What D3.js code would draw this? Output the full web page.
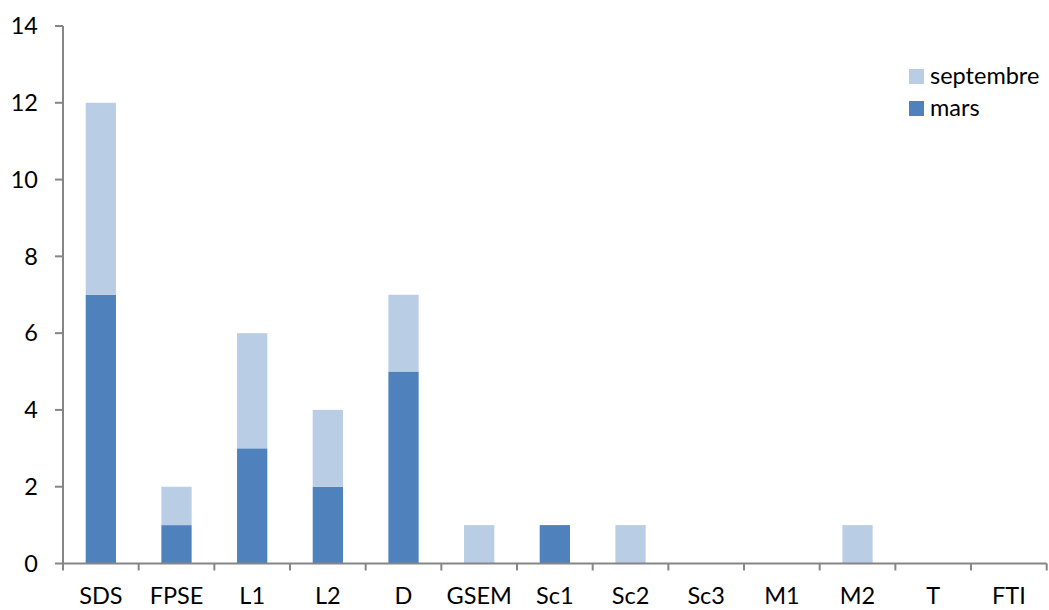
<!DOCTYPE html>
<html><head><meta charset="utf-8">
<script src="https://cdn.jsdelivr.net/npm/d3@7"></script>
<style>body{margin:0;background:#fff}svg{display:block}text{font-family:Lato,"Open Sans",sans-serif;fill:#000}</style>
</head><body><svg id="c" width="1049" height="610"></svg>
<script>
const categories = ["SDS","FPSE","L1","L2","D","GSEM","Sc1","Sc2","Sc3","M1","M2","T","FTI"];
const mars = [7,1,3,2,5,0,1,0,0,0,0,0,0];
const septembre = [5,1,3,2,2,1,0,1,0,0,1,0,0];
const seriesNames = ["mars","septembre"];
const yTicks = [0,2,4,6,8,10,12,14];
const colors = {mars:"#4F81BD", septembre:"#B9CDE5"};

(function(){
const svg = d3.select("#c");
const mLeft = 63, mRight = 1046.7, mTop = 26, mBottom = 563.5;
const fs = "23.5px";
const xb = d3.scaleBand().domain(categories).range([mLeft, mRight]);
const y = d3.scaleLinear().domain([0,14]).range([mBottom, mTop]);
const barW = xb.bandwidth()/2.5;

const rows = categories.map((c,i)=>({cat:c, mars:mars[i], septembre:septembre[i]}));
const stack = d3.stack().keys(seriesNames)(rows);

svg.append("g").selectAll("g").data(stack).join("g")
  .attr("fill", d=>colors[d.key])
  .selectAll("rect").data(d=>d.filter(p=>p[1]>p[0])).join("rect")
  .attr("x", d=>xb(d.data.cat) + (xb.bandwidth()-barW)/2)
  .attr("width", barW)
  .attr("y", d=>y(d[1]))
  .attr("height", d=>y(d[0])-y(d[1]));

// y axis
const ga = svg.append("g");
ga.append("line").attr("x1",mLeft).attr("x2",mLeft).attr("y1",mTop).attr("y2",mBottom).attr("stroke","#868686").attr("stroke-width",2);
ga.selectAll("line.t").data(yTicks).join("line").attr("class","t")
  .attr("x1",mLeft-8).attr("x2",mLeft).attr("y1",d=>y(d)).attr("y2",d=>y(d)).attr("stroke","#868686").attr("stroke-width",2);
ga.selectAll("text").data(yTicks).join("text")
  .attr("x",38).attr("y",d=>y(d)).attr("dy","0.35em").attr("text-anchor","end")
  .style("font-size",fs).text(d=>d);

// x axis
const gx = svg.append("g");
gx.append("line").attr("x1",mLeft).attr("x2",mRight).attr("y1",mBottom).attr("y2",mBottom).attr("stroke","#868686").attr("stroke-width",2);
const edges = categories.map(c=>xb(c)).concat([mRight]);
gx.selectAll("line.t").data(edges).join("line").attr("class","t")
  .attr("x1",d=>d).attr("x2",d=>d).attr("y1",mBottom).attr("y2",mBottom+7).attr("stroke","#868686").attr("stroke-width",2);
gx.selectAll("text").data(categories).join("text")
  .attr("x",d=>xb(d)+xb.bandwidth()/2).attr("y",604).attr("text-anchor","middle")
  .style("font-size",fs).text(d=>d);

// legend
const leg = svg.append("g");
const legItems = ["septembre","mars"];
legItems.forEach((k,i)=>{
  leg.append("rect").attr("x",909).attr("y",69+i*32).attr("width",15).attr("height",15).attr("fill",colors[k]);
  leg.append("text").attr("x",930).attr("y",84+i*32).style("font-size",fs).text(k);
});
})();
</script></body></html>
